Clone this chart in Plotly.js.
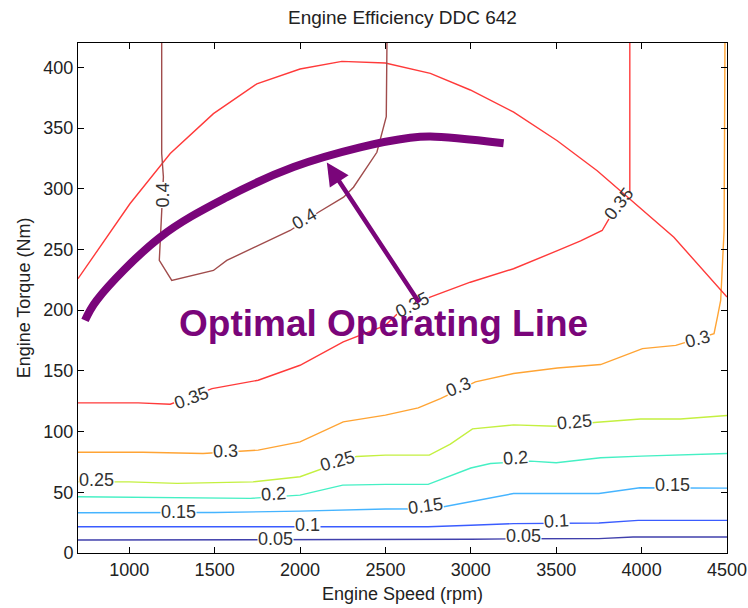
<!DOCTYPE html>
<html>
<head>
<meta charset="utf-8">
<script src="https://cdn.plot.ly/plotly-3.0.1.min.js"></script>
<style>html,body{margin:0;padding:0;background:#fff;}#chart{width:748px;height:608px;}</style>
</head>
<body>
<div id="chart"></div>
<script>
// ---- data: contour levels (engine speed rpm, torque Nm) ----
const levels = [0.05, 0.1, 0.15, 0.2, 0.25, 0.3, 0.35, 0.35, 0.4];
const levelColors = ['#4040ac', '#3a5cff', '#45b4ff', '#45f0c4', '#c4f040', '#ffa434', '#ff3a3a', '#ff3a3a', '#a04c4c'];

const c005x = [700, 2000, 2750, 3000, 3250, 3750, 3950, 4500];
const c005y = [10.7, 10.7, 11.2, 11.3, 11.7, 11.8, 13.2, 13.2];

const c010x = [700, 2750, 3000, 3250, 3750, 3980, 4500];
const c010y = [21.6, 21.6, 22.8, 24.2, 24.7, 26.9, 26.9];

const c015x = [700, 1500, 2000, 2500, 2780, 3000, 3250, 3750, 3990, 4500];
const c015y = [33.1, 33.3, 34.5, 36.2, 36.4, 42.5, 49, 49, 53.7, 53.4];

const c020x = [700, 1250, 1710, 2000, 2250, 2500, 2750, 3000, 3115, 3350, 3500, 3760, 4000, 4500];
const c020y = [46.3, 45.8, 45, 47.7, 55.9, 56.5, 56.5, 70, 73.7, 75.7, 74.3, 78.4, 79.8, 82];

const c025x = [700, 1000, 1280, 1725, 2000, 2250, 2330, 2500, 2757, 2880, 3010, 3250, 3495, 3740, 3993, 4227, 4500];
const c025y = [58.6, 58.6, 57.3, 58.6, 62.8, 75.5, 79.5, 80.6, 80.6, 89.6, 102.2, 105.5, 104.4, 107.7, 110.4, 110.4, 113.2];

const c030x = [700, 1080, 1432, 1667, 1755, 2000, 2253, 2500, 2692, 2822, 3027, 3250, 3507, 3760, 4005, 4200, 4424, 4445, 4463, 4483, 4486, 4488];
const c030y = [83, 83, 82, 84.1, 84.7, 91.5, 108, 113.5, 119.5, 127.2, 140.9, 147.8, 152.4, 155.2, 168.3, 171, 180.7, 195, 208, 265.6, 330, 420];

const c035ax = [700, 1053, 1240, 1485, 1755, 2000, 2253, 2500, 2570, 2762, 2997, 3250, 3507, 3643, 3769, 3809, null, 3931, 3931];
const c035ay = [123.6, 123.6, 122.5, 135.4, 142.3, 154.6, 173.8, 187.5, 197, 210.8, 223, 234.1, 249, 257, 265.6, 275.2, null, 297, 420];

const c035bx = [700, 1004, 1240, 1493, 1747, 2000, 2245, 2499, 2763, 2997, 3251, 3506, 3740, 3916, 4189, 4500];
const c035by = [225.9, 287.6, 329, 361.8, 386.4, 398.6, 404.9, 403.5, 395, 381.3, 363, 339.5, 314.8, 293, 260, 210.8];

const c040x = [1190, 1190, 1200, 1190, 1176, 1249, 1493, 1571, 1942, 2108, 2255, 2313, 2450, 2505, 2509];
const c040y = [420, 329, 309.6, 276.6, 241, 224.5, 232.7, 241, 265.6, 280.6, 293, 301.2, 330, 359.4, 420];

const contourX = [c005x, c010x, c015x, c020x, c025x, c030x, c035ax, c035bx, c040x];
const contourY = [c005y, c010y, c015y, c020y, c025y, c030y, c035ay, c035by, c040y];

// contour labels: text, rpm, torque, angle
const labelText  = ['0.4', '0.4', '0.35', '0.35', '0.35', '0.3', '0.3', '0.3', '0.25', '0.25', '0.25', '0.2', '0.2', '0.15', '0.15', '0.15', '0.1', '0.1', '0.05', '0.05'];
const labelX     = [1192, 2024, 1362, 2657, 3865, 1561, 2927, 4328, 811, 2218, 3607, 1843, 3261, 1291, 2734, 4181, 2042, 3501, 1854, 3308];
const labelY     = [294.4, 274.7, 127.5, 204, 287.8, 83.9, 136.5, 176, 60, 75.7, 107.7, 48.5, 78.1, 33.7, 38.7, 55.9, 23.4, 26.3, 11.5, 14];
const labelAngle = [-90, -30, -20, -27, -52, -2, -22, -15, 0, -16, -5, -4, -4, 0, -8, 0, 0, -3, 0, 0];
const labelBg    = [1, 1, 1, 1, 0, 1, 1, 1, 1, 1, 1, 1, 1, 1, 1, 1, 1, 1, 1, 1];

// optimal operating line
const optX = [741, 809, 1180, 1571, 1962, 2352, 2645, 2763, 3192];
const optY = [191.6, 208, 260, 293, 317.8, 334, 341.9, 343, 337.5];
// arrow: tail -> head
const arrowTail = [2703, 205];
const arrowHead = [2157, 321.5];

const xTicks = [1000, 1500, 2000, 2500, 3000, 3500, 4000, 4500];
const yTicks = [0, 50, 100, 150, 200, 250, 300, 350, 400];

const purple = '#7a057a';
const FONT = 'Arial, "Liberation Sans", sans-serif';

const traces = contourX.map((xs, i) => ({
  x: xs, y: contourY[i], type: 'scatter', mode: 'lines',
  line: {color: levelColors[i], width: 1.4},
  connectgaps: false, hoverinfo: 'skip', showlegend: false, name: String(levels[i])
}));
traces.push({
  x: optX, y: optY, type: 'scatter', mode: 'lines',
  line: {color: purple, width: 8, shape: 'spline', smoothing: 1},
  hoverinfo: 'skip', showlegend: false
});

const annotations = labelText.map((t, i) => ({
  x: labelX[i], y: labelY[i], xref: 'x', yref: 'y', text: t, showarrow: false,
  textangle: labelAngle[i], font: {family: FONT, size: 18, color: '#333'},
  bgcolor: labelBg[i] ? '#ffffff' : 'rgba(0,0,0,0)', borderpad: 0
}));
annotations.push({
  x: 2487, y: 188.7, xref: 'x', yref: 'y', text: '<b>Optimal Operating Line</b>', showarrow: false,
  font: {family: FONT, size: 37, color: purple}
});
annotations.push({
  x: arrowHead[0], y: arrowHead[1], ax: arrowTail[0], ay: arrowTail[1],
  xref: 'x', yref: 'y', axref: 'x', ayref: 'y', text: '', showarrow: true,
  arrowhead: 2, arrowsize: 1, arrowwidth: 4.5, arrowcolor: purple, standoff: 0
});

const layout = {
  width: 748, height: 608,
  margin: {l: 78, r: 21, t: 43, b: 55},
  paper_bgcolor: '#fff', plot_bgcolor: '#fff',
  font: {family: FONT, size: 18, color: '#222'},
  title: {text: 'Engine Efficiency DDC 642', font: {family: FONT, size: 19, color: '#222'},
          x: 0.538, xanchor: 'center', y: 0.972, yanchor: 'middle', yref: 'container'},
  xaxis: {range: [700, 4500], tickvals: xTicks, ticks: 'inside', ticklen: 6, tickcolor: '#000',
          showline: true, linecolor: '#000', linewidth: 1, mirror: 'ticks', showgrid: false, zeroline: false,
          tickfont: {family: FONT, size: 18, color: '#222'},
          title: {text: 'Engine Speed (rpm)', font: {family: FONT, size: 18, color: '#222'}, standoff: 8}},
  yaxis: {range: [0, 420], tickvals: yTicks, ticks: 'inside', ticklen: 6, tickcolor: '#000',
          showline: true, linecolor: '#000', linewidth: 1, mirror: 'ticks', showgrid: false, zeroline: false,
          tickfont: {family: FONT, size: 18, color: '#222'},
          title: {text: 'Engine Torque (Nm)', font: {family: FONT, size: 18, color: '#222'}, standoff: 8}},
  annotations: annotations,
  showlegend: false
};

Plotly.newPlot('chart', traces, layout, {staticPlot: true, displayModeBar: false});
</script>
</body>
</html>
